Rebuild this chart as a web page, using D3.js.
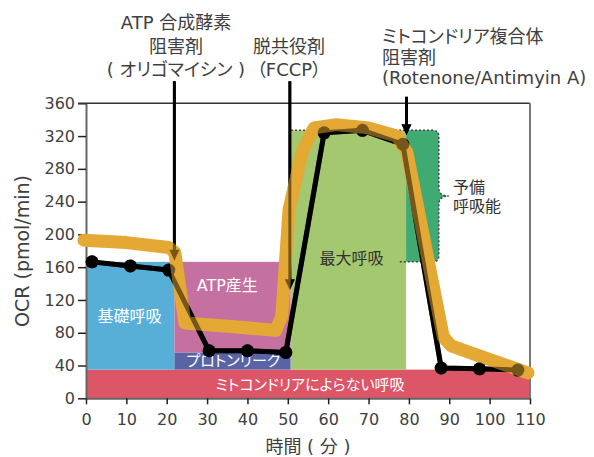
<!DOCTYPE html>
<html><head><meta charset="utf-8">
<script src="https://cdn.jsdelivr.net/npm/d3@7"></script>
<style>
body{margin:0;background:#fff;}
svg text{font-family:"DejaVu Sans","Noto Sans CJK JP",sans-serif;font-feature-settings:"palt" 1;}
</style></head><body>
<svg id="c" width="594" height="457"></svg>
<script>
// ---- data ----
const timeMin = [1.5, 11, 20.5, 30.5, 40, 49.5, 59, 68.5, 78.5, 88, 97.5, 107];
const ocr = [166.5, 161.5, 156.5, 58, 58, 56, 324, 327, 310, 37, 36, 34.5];

const highlightTime = [-0.5, 10, 20.5, 22, 24.5, 35, 47, 48.5, 50.3, 53.5, 56.5, 62, 70, 77, 79.5, 85.5, 88.5, 90.5, 98.5, 109.5];
const highlightOcr  = [193, 190, 184, 178, 92, 88, 83, 100, 230, 300, 330, 334, 330, 320, 300, 150, 75, 64, 50, 31];

const regionNames = ["ミトコンドリアによらない呼吸", "基礎呼吸", "プロトンリーク", "ATP産生", "最大呼吸"];
const regionX0 = [0, 0, 21.9, 21.9, 50.8];
const regionX1 = [110, 21.9, 50.7, 50.7, 79.3];
const regionY0 = [0, 35, 35, 56, 35];
const regionY1 = [35, 166.5, 56, 166.5, 327];

const spareName = ["予備", "呼吸能"];
const spareX0 = 79.3, spareX1 = 87.4, spareY0 = 166.5, spareY1 = 327;

const injectTime = [21.9, 50.5, 79.4];
const injectTop = [387, 387, 368];
const injectTip = [168, 132, 321];
const injectLabels = [
  ["ATP 合成酵素", "阻害剤", "( オリゴマイシン )"],
  ["脱共役剤", "（FCCP）"],
  ["ミトコンドリア複合体", "阻害剤", "(Rotenone/Antimyin A)"]
];

const xTicks = [0, 10, 20, 30, 40, 50, 60, 70, 80, 90, 100, 110];
const yTicks = [0, 40, 80, 120, 160, 200, 240, 280, 320, 360];
const xTitle = "時間 ( 分 )";
const yTitle = "OCR (pmol/min)";

// ---- styles / layout ----
const regionColors = ["#dd5668", "#57afd8", "#5a64a5", "#c470a1", "#a3c86f"];
const spareColor = "#3fab72";
const orange = "#e4a934";
const textGray = "#404040";

const svg = d3.select("#c");
const x = d3.scaleLinear().domain([0, 110]).range([86, 530]);
const y = d3.scaleLinear().domain([0, 360]).range([398.3, 103.3]);

// regions
const regions = regionNames.map((n, i) => ({n, x0: regionX0[i], x1: regionX1[i], y0: regionY0[i], y1: regionY1[i], c: regionColors[i]}));
svg.append("g").selectAll("rect").data(regions).join("rect")
  .attr("x", d => x(d.x0)).attr("width", d => x(d.x1) - x(d.x0))
  .attr("y", d => y(d.y1)).attr("height", d => y(d.y0) - y(d.y1))
  .attr("fill", d => d.c);

// spare capacity shape with brace
const xs0 = x(spareX0), xr = x(spareX1), yt = y(spareY1), yb = y(spareY0);
const r = 6, bulge = 10, bh = 9, mid = (yt + yb) / 2;
function rightSide() {
  return `H${xr - r}Q${xr},${yt} ${xr},${yt + r}V${mid - bh}` +
    `C${xr},${mid - 3} ${xr + 3},${mid} ${xr + bulge},${mid}` +
    `C${xr + 3},${mid} ${xr},${mid + 3} ${xr},${mid + bh}` +
    `V${yb - r}Q${xr},${yb} ${xr - r},${yb}`;
}
svg.append("path").attr("d", `M${xs0},${yt}` + rightSide() + `H${xs0}Z`).attr("fill", spareColor);
svg.append("path").attr("d", `M${x(regionX0[4])},${yt}` + rightSide() + `H${x(77.3)}`)
  .attr("fill", "none").attr("stroke", "#444").attr("stroke-width", 1.5).attr("stroke-dasharray", "2,2");

// region labels
const labelPos = [[55.5, 17], [10.8, 100], [36.5, 45.5], [35, 138], [65.8, 171]];
const labelSize = [15, 16, 15, 16, 16];
const labelFill = ["#fff", "#fff", "#fff", "#fff", "#333"];
svg.append("g").selectAll("text").data(regions).join("text")
  .attr("x", (d, i) => x(labelPos[i][0])).attr("y", (d, i) => y(labelPos[i][1]))
  .attr("dy", "0.35em").attr("text-anchor", "middle")
  .attr("font-size", (d, i) => labelSize[i]).attr("fill", (d, i) => labelFill[i])
  .text(d => d.n);
svg.append("g").selectAll("text").data(spareName).join("text")
  .attr("x", x(90.9)).attr("y", (d, i) => 187 + i * 19).attr("dy", "0.35em")
  .attr("font-size", 16).attr("fill", "#333").text(d => d);

// axes
const gy = svg.append("g").attr("transform", `translate(${x(0)},0)`)
  .call(d3.axisLeft(y).tickValues(yTicks).tickSize(8).tickSizeOuter(0).tickPadding(3));
gy.select(".domain").attr("stroke", "#666").attr("stroke-width", 2);
gy.selectAll(".tick line").attr("stroke", "#222").attr("stroke-width", 1.5);
gy.selectAll(".tick text").attr("font-size", 16).attr("fill", textGray).style("font-family", '"DejaVu Sans",sans-serif');

const gx = svg.append("g").attr("transform", `translate(0,${y(0)})`)
  .call(d3.axisBottom(x).tickValues(xTicks).tickSize(6).tickSizeOuter(0).tickPadding(9));
gx.select(".domain").attr("stroke", "#666").attr("stroke-width", 2);
gx.selectAll(".tick line").attr("stroke", "#222").attr("stroke-width", 1.5);
gx.selectAll(".tick text").attr("font-size", 16).attr("fill", textGray).style("font-family", '"DejaVu Sans",sans-serif');

// frame
svg.append("line").attr("x1", x(0) - 8).attr("x2", x(110)).attr("y1", y(360)).attr("y2", y(360))
  .attr("stroke", "#333").attr("stroke-width", 1.5);
svg.append("line").attr("x1", x(110)).attr("x2", x(110)).attr("y1", y(360)).attr("y2", y(0))
  .attr("stroke", "#777").attr("stroke-width", 2);

// titles
svg.append("text").attr("x", x(55)).attr("y", 447).attr("dy", "0.35em").attr("text-anchor", "middle")
  .attr("font-size", 18).attr("fill", textGray).text(xTitle);
svg.append("text").attr("transform", `translate(22,251) rotate(-90)`).attr("dy", "0.35em")
  .attr("text-anchor", "middle").attr("font-size", 19).attr("fill", textGray).text(yTitle);

// injection labels
const annX = [176, 289, 382];
const annAnchor = ["middle", "middle", "start"];
const annY = [[22.5, 46.5, 70], [46.5, 70], [37, 58, 77.5]];
injectLabels.forEach((lines, i) => {
  svg.append("g").selectAll("text").data(lines).join("text")
    .attr("x", annX[i]).attr("y", (d, j) => annY[i][j]).attr("dy", "0.35em")
    .attr("text-anchor", annAnchor[i]).attr("font-size", 18).attr("fill", textGray).text(d => d);
});

// black layer
const pts = timeMin.map((t, i) => [t, ocr[i]]);
const hl = highlightTime.map((t, i) => [t, highlightOcr[i]]);
const lineGen = d3.line().x(d => x(d[0])).y(d => y(d[1]));
function blackLayer(opacity) {
  const g = svg.append("g").attr("opacity", opacity);
  injectTime.forEach((t, i) => {
    const tx = x(t), ty = y(injectTip[i]);
    g.append("line").attr("x1", tx).attr("x2", tx).attr("y1", y(injectTop[i])).attr("y2", ty - 9)
      .attr("stroke", "#000").attr("stroke-width", 3);
    g.append("path").attr("d", `M${tx - 5},${ty - 11}L${tx + 5},${ty - 11}L${tx},${ty}Z`).attr("fill", "#000");
  });
  g.append("path").attr("d", lineGen(pts)).attr("fill", "none").attr("stroke", "#000")
    .attr("stroke-width", 5).attr("stroke-linejoin", "round");
  g.selectAll("circle").data(pts).join("circle")
    .attr("cx", d => x(d[0])).attr("cy", d => y(d[1])).attr("r", 6.5).attr("fill", "#000");
}
blackLayer(1);
svg.append("path").attr("d", lineGen(hl)).attr("fill", "none").attr("stroke", orange)
  .attr("stroke-width", 13).attr("stroke-linejoin", "round").attr("stroke-linecap", "round");
blackLayer(0.48);
</script>
</body></html>
